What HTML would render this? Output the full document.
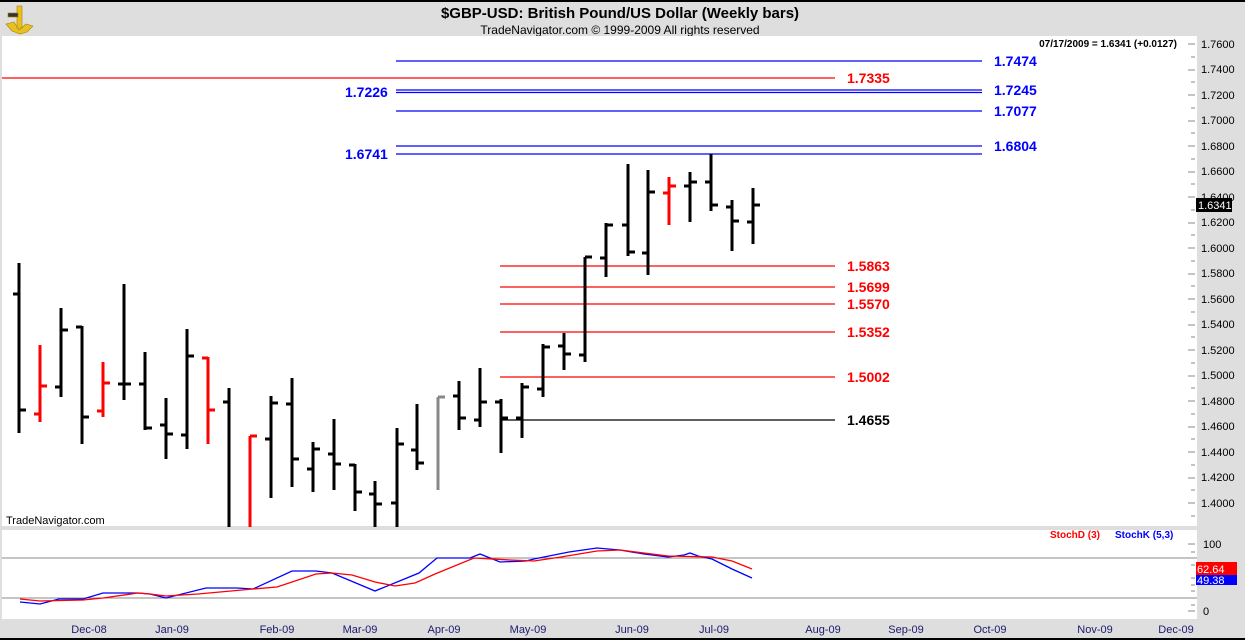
<!DOCTYPE html>
<html><head><meta charset="utf-8"><style>
html,body{margin:0;padding:0;width:1245px;height:640px;overflow:hidden;background:#dedede}
svg{display:block}
text{font-family:"Liberation Sans",Arial,sans-serif}
</style></head><body>
<svg width="1245" height="640" viewBox="0 0 1245 640" xmlns="http://www.w3.org/2000/svg">
<rect x="0" y="0" width="1245" height="640" fill="#dedede"/>
<rect x="0" y="0" width="1245" height="2" fill="#000"/>
<rect x="0" y="638" width="1245" height="2" fill="#000"/>
<!-- logo -->
<g fill="#e8c020" stroke="#a88000" stroke-width="0.6">
<path d="M6 24 L14 22 L19 30 L26 24 L33 26 L27 32 L20 34 L12 31 Z"/>
<rect x="17" y="6" width="5" height="22"/>
<rect x="8" y="13" width="10" height="4" fill="#333"/>
</g>
<!-- title -->
<text x="620" y="18" font-size="15" font-weight="bold" text-anchor="middle" fill="#000">$GBP-USD:  British Pound/US Dollar  (Weekly bars)</text>
<text x="620" y="34" font-size="12" text-anchor="middle" fill="#000">TradeNavigator.com © 1999-2009 All rights reserved</text>
<!-- main panel -->
<rect x="2" y="36" width="1195" height="490" fill="#fff"/>
<rect x="2" y="530" width="1195" height="89" fill="#fff"/>
<text x="1177" y="47" font-size="10" font-weight="bold" text-anchor="end" fill="#000">07/17/2009 = 1.6341 (+0.0127)</text>
<!-- right axis -->
<g font-size="11" fill="#000">
<text x="1201" y="48">1.7600</text><text x="1201" y="73">1.7400</text><text x="1201" y="99">1.7200</text>
<text x="1201" y="124">1.7000</text><text x="1201" y="150">1.6800</text><text x="1201" y="175">1.6600</text>
<text x="1201" y="201">1.6400</text><text x="1201" y="226">1.6200</text><text x="1201" y="252">1.6000</text>
<text x="1201" y="277">1.5800</text><text x="1201" y="303">1.5600</text><text x="1201" y="328">1.5400</text>
<text x="1201" y="354">1.5200</text><text x="1201" y="379">1.5000</text><text x="1201" y="405">1.4800</text>
<text x="1201" y="430">1.4600</text><text x="1201" y="456">1.4400</text><text x="1201" y="481">1.4200</text>
<text x="1201" y="507">1.4000</text>
</g>
<g stroke="#888" stroke-width="1">
<path d="M1188 44h7M1188 70h7M1188 95h7M1188 121h7M1188 146h7M1188 172h7M1188 197h7M1188 223h7M1188 248h7M1188 274h7M1188 299h7M1188 325h7M1188 350h7M1188 376h7M1188 401h7M1188 427h7M1188 452h7M1188 478h7M1188 503h7"/>
<path d="M1191 57h4M1191 82h4M1191 108h4M1191 133h4M1191 159h4M1191 184h4M1191 210h4M1191 235h4M1191 261h4M1191 286h4M1191 312h4M1191 337h4M1191 363h4M1191 388h4M1191 414h4M1191 439h4M1191 465h4M1191 490h4M1191 516h4"/>
</g>
<rect x="1196" y="198" width="36" height="14" fill="#000"/>
<text x="1198" y="209" font-size="11" fill="#fff">1.6341</text>
<!-- levels -->
<g stroke-width="1.2">
<line x1="2" y1="78" x2="835" y2="78" stroke="#f00"/>
<line x1="396" y1="61" x2="982" y2="61" stroke="#00f"/>
<line x1="396" y1="90" x2="982" y2="90" stroke="#00f"/>
<line x1="396" y1="92.5" x2="982" y2="92.5" stroke="#00f"/>
<line x1="396" y1="111" x2="982" y2="111" stroke="#00f"/>
<line x1="396" y1="146" x2="982" y2="146" stroke="#00f"/>
<line x1="396" y1="154" x2="982" y2="154" stroke="#00f"/>
<line x1="500" y1="266" x2="835" y2="266" stroke="#f00"/>
<line x1="500" y1="287" x2="835" y2="287" stroke="#f00"/>
<line x1="500" y1="304" x2="835" y2="304" stroke="#f00"/>
<line x1="500" y1="332" x2="835" y2="332" stroke="#f00"/>
<line x1="500" y1="377" x2="835" y2="377" stroke="#f00"/>
<line x1="500" y1="420" x2="835" y2="420" stroke="#000"/>
</g>
<g font-size="14" font-weight="bold">
<text x="994" y="66" fill="#00f">1.7474</text>
<text x="847" y="83" fill="#f00">1.7335</text>
<text x="345" y="97" fill="#00f">1.7226</text>
<text x="994" y="95" fill="#00f">1.7245</text>
<text x="994" y="116" fill="#00f">1.7077</text>
<text x="994" y="151" fill="#00f">1.6804</text>
<text x="345" y="159" fill="#00f">1.6741</text>
<text x="847" y="271" fill="#f00">1.5863</text>
<text x="847" y="292" fill="#f00">1.5699</text>
<text x="847" y="309" fill="#f00">1.5570</text>
<text x="847" y="337" fill="#f00">1.5352</text>
<text x="847" y="382" fill="#f00">1.5002</text>
<text x="847" y="425" fill="#000">1.4655</text>
</g>
<!-- bars -->
<g stroke-width="3" fill="none">
<g stroke="#000">
<path d="M19 263V433M13 294h6M19 410h7"/>
<path d="M61 308V397M55 387h6M61 330h7"/>
<path d="M82 326V444M76 327h6M82 417h7"/>
<path d="M124 284V400M118 384h6M124 384h7"/>
<path d="M145 352V430M139 384h6M145 428h7"/>
<path d="M166 398V459M160 425h6M166 434h7"/>
<path d="M187 329V449M181 435h6M187 356h7"/>
<path d="M229 388V527M223 402h6"/>
<path d="M271 396V498M265 439h6M271 403h7"/>
<path d="M292 378V487M286 404h6M292 459h7"/>
<path d="M313 442V492M307 469h6M313 449h7"/>
<path d="M334 419V490M328 454h6M334 464h7"/>
<path d="M355 464V511M349 465h6M355 492h7"/>
<path d="M375 481V527M369 494h6M375 504h7"/>
<path d="M397 428V527M391 503h6M397 444h7"/>
<path d="M417 404V470M411 450h6M417 463h7"/>
<path d="M459 381V430M453 396h6M459 418h7"/>
<path d="M480 368V427M474 420h6M480 402h7"/>
<path d="M501 399V453M495 402h6M501 418h7"/>
<path d="M522 383V438M516 418h6M522 387h7"/>
<path d="M543 344V397M537 389h6M543 347h7"/>
<path d="M564 333V370M558 346h6M564 354h7"/>
<path d="M585 257V362M579 355h6M585 257h7"/>
<path d="M606 223V277M600 258h6M606 225h7"/>
<path d="M628 164V256M622 225h6M628 252h7"/>
<path d="M648 170V275M642 253h6M648 192h7"/>
<path d="M690 172V222M684 186h6M690 182h7"/>
<path d="M711 154V211M705 182h6M711 205h7"/>
<path d="M732 200V251M726 207h6M732 221h7"/>
<path d="M753 188V244M747 222h6M753 205h7"/>
</g>
<g stroke="#f00">
<path d="M40 345V422M34 414h6M40 386h7"/>
<path d="M103 362V417M97 411h6M103 383h7"/>
<path d="M208 357V444M202 358h6M208 410h7"/>
<path d="M250 436V527M250 436h7"/>
<path d="M669 177V225M663 193h6M669 186h7"/>
</g>
<path d="M438 397V490M438 397h7" stroke="#888"/>
</g>
<text x="6" y="524" font-size="11" fill="#000">TradeNavigator.com</text>
<!-- stoch panel -->
<line x1="2" y1="558" x2="1197" y2="558" stroke="#888"/>
<line x1="2" y1="598" x2="1197" y2="598" stroke="#888"/>
<text x="1050" y="538" font-size="10" font-weight="bold" fill="#f00">StochD (3)</text>
<text x="1115" y="538" font-size="10" font-weight="bold" fill="#00f">StochK (5,3)</text>
<polyline fill="none" stroke="#00f" stroke-width="1.3" points="20,602 40,604 59,599 83,599 103,593 138,593 150,594 166,598 206,588 237,588 253,589 292,571 316,571 332,573 375,591 419,573 437,558 470,558 480,554 500,562 526,561 534,559 569,552 597,548 620,550 644,554 668,557 684,555 690,553 698,556 712,559 732,569 752,578"/>
<polyline fill="none" stroke="#f00" stroke-width="1.3" points="20,599 40,601 83,600 103,598 138,593 150,594 166,596 198,594 253,589 277,587 316,574 332,573 352,575 375,582 395,586 415,583 435,574 474,558 510,560 534,561 561,557 597,551 620,550 668,556 712,557 732,561 752,569"/>
<g font-size="11" fill="#000"><text x="1203" y="548">100</text><text x="1203" y="615">0</text></g>
<g stroke="#888"><path d="M1188 544h7M1188 611h7M1191 552h4M1191 565h4M1191 578h4M1191 585h4M1191 591h4M1191 605h4"/></g>
<rect x="1196" y="562" width="41" height="13" fill="#f00"/>
<text x="1197" y="573" font-size="11" fill="#fff">62.64</text>
<rect x="1196" y="575" width="41" height="10" fill="#00f"/>
<text x="1197" y="584" font-size="11" fill="#fff">49.38</text>
<!-- dates -->
<g font-size="11" fill="#1a1a6e" text-anchor="middle">
<text x="89" y="633">Dec-08</text><text x="172" y="633">Jan-09</text><text x="277" y="633">Feb-09</text>
<text x="360" y="633">Mar-09</text><text x="444" y="633">Apr-09</text><text x="528" y="633">May-09</text>
<text x="632" y="633">Jun-09</text><text x="714" y="633">Jul-09</text><text x="823" y="633">Aug-09</text>
<text x="906" y="633">Sep-09</text><text x="990" y="633">Oct-09</text><text x="1095" y="633">Nov-09</text>
<text x="1176" y="633">Dec-09</text>
</g>
</svg>
</body></html>
